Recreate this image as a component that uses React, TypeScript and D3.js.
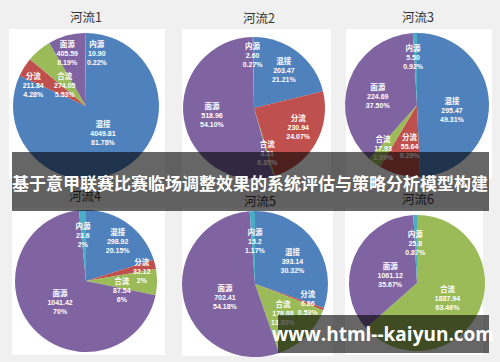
import React from "react";
import * as d3 from "d3";

// 分类（顺时针，从12点方向开始）
const categories = ["混接", "分流", "合流", "面源", "内源"];
const colors = ["#4f81bd", "#c0504d", "#9bbb59", "#8064a2", "#4bacc6"];
const rivers = ["河流1", "河流2", "河流3", "河流4", "河流5", "河流6"];

// 各河流数值
const river1Values = [4049.81, 211.84, 274.05, 405.59, 10.9];
const river2Values = [203.47, 230.94, 3.31, 518.96, 2.6];
const river3Values = [295.47, 55.64, 17.93, 224.69, 5.5];
const river4Values = [298.92, 32.12, 87.54, 1041.42, 23.6];
const river5Values = [393.14, 6.86, 178.88, 702.41, 15.2];
const river6Values = [0, 0, 1887.94, 1061.12, 25.8];

// 标签上显示的数字
const river1Text = ["4049.81", "211.84", "274.05", "405.59", "10.90"];
const river2Text = ["203.47", "230.94", "3.31", "518.96", "2.60"];
const river3Text = ["295.47", "55.64", "17.93", "224.69", "5.50"];
const river4Text = ["298.92", "32.12", "87.54", "1041.42", "23.6"];
const river5Text = ["393.14", "6.86", "178.88", "702.41", "15.2"];
const river6Text = ["", "", "1887.94", "1061.12", "25.8"];

const river1Pct = ["81.78%", "4.28%", "5.53%", "8.19%", "0.22%"];
const river2Pct = ["21.21%", "24.07%", "0.35%", "54.10%", "0.27%"];
const river3Pct = ["49.31%", "9.29%", "2.99%", "37.50%", "0.92%"];
const river4Pct = ["20.15%", "2%", "6%", "70%", "2%"];
const river5Pct = ["30.32%", "0.53%", "13.80%", "54.18%", "1.17%"];
const river6Pct = ["", "", "63.46%", "35.67%", "0.87%"];

const allValues = [river1Values, river2Values, river3Values, river4Values, river5Values, river6Values];
const allText = [river1Text, river2Text, river3Text, river4Text, river5Text, river6Text];
const allPct = [river1Pct, river2Pct, river3Pct, river4Pct, river5Pct, river6Pct];

const title = "基于意甲联赛比赛临场调整效果的系统评估与策略分析模型构建";
const watermark = "www.html--kaiyun.com";

// 版面（面板位置、饼图中心、半径）
const panels = [
  { x: 9, y: 29, w: 156, h: 150, cx: 86, cy: 106, r: 73, tx: 86, ty: 22 },
  { x: 182, y: 29, w: 149, h: 150, cx: 254, cy: 108, r: 71, tx: 259, ty: 23 },
  { x: 346, y: 29, w: 146, h: 150, cx: 417, cy: 105, r: 72, tx: 418, ty: 22 },
  { x: 12, y: 208, w: 153, h: 147, cx: 86, cy: 281, r: 71, tx: 85, ty: 201 },
  { x: 182, y: 208, w: 151, h: 148, cx: 255, cy: 284, r: 73, tx: 260, ty: 206 },
  { x: 345, y: 208, w: 138, h: 147, cx: 417, cy: 283, r: 68, tx: 418, ty: 204 },
];

// 标签位置微调 [半径比例, 角度偏移(度)]
const labelAdjust = [
  [[0.44, 1], [0.78, -10], [0.41, -5], [0.77, -4], [0.74, 12]],
  [[0.68, 0], [0.68, -6], [0.66, 0], [0.6, -1], [0.75, -1]],
  [[0.49, 9], [0.58, -4], [0.76, 2], [0.56, -6], [0.67, -3]],
  [[0.72, 2], [0.8, 3], [0.52, 13], [0.47, 3], [0.65, -1]],
  [[0.6, 4], [0.77, 0], [0.55, 0], [0.45, -12], [0.59, 2]],
  [[0.5, 0], [0.5, 0], [0.5, 2], [0.41, -7], [0.59, -1]],
];

const color = d3.scaleOrdinal<string, string>().domain(categories).range(colors);

function RiverPie({ idx }: { idx: number }) {
  const p = panels[idx];
  const values = allValues[idx];
  const pie = d3
    .pie<number>()
    .sort(null)
    .value((d) => d);
  const arcs = pie(values);
  const arc = d3.arc<d3.PieArcDatum<number>>().innerRadius(0).outerRadius(p.r);

  return (
    <g>
      <rect x={p.x} y={p.y} width={p.w} height={p.h} fill="#ffffff" />
      <text
        x={p.tx}
        y={p.ty}
        textAnchor="middle"
        fontSize="12.5"
        fill="#333"
        fontFamily="'Noto Sans CJK SC', sans-serif"
      >
        {rivers[idx]}
      </text>
      <g transform={`translate(${p.cx},${p.cy})`}>
        {arcs.map((a, i) =>
          a.value > 0 ? (
            <path key={i} d={arc(a) || ""} fill={color(categories[i])} />
          ) : null
        )}
        {arcs.map((a, i) => {
          if (a.value <= 0) return null;
          const [k, dd] = labelAdjust[idx][i];
          const ang = (a.startAngle + a.endAngle) / 2 + (dd * Math.PI) / 180;
          const lx = k * p.r * Math.sin(ang);
          const ly = -k * p.r * Math.cos(ang);
          return (
            <g key={"l" + i} transform={`translate(${lx},${ly})`} fill="#ffffff" fontWeight="bold" textAnchor="middle">
              <text y={-6} fontSize="7.5" fontFamily="'Noto Sans CJK SC', serif">
                {categories[i]}
              </text>
              <text y={3} fontSize="7" fontFamily="'Liberation Sans', sans-serif">
                {allText[idx][i]}
              </text>
              <text y={12} fontSize="7" fontFamily="'Liberation Sans', sans-serif">
                {allPct[idx][i]}
              </text>
            </g>
          );
        })}
      </g>
    </g>
  );
}

export default function App() {
  const width = 500,
    height = 362;
  return (
    <svg
      width={width}
      height={height}
      style={{ position: "absolute", left: 0, top: 0, display: "block" }}
    >
      <rect x={0} y={0} width={width} height={height} fill="#f0f0f0" />
      {rivers.map((r, i) => (
        <RiverPie key={r} idx={i} />
      ))}
      {/* 标题横幅 */}
      <rect x={12} y={152} width={477} height={59} fill="#000" opacity={0.6} />
      <text
        x={250}
        y={190}
        textAnchor="middle"
        fontSize="17"
        fontWeight="bold"
        fill="#ffffff"
        fontFamily="'Noto Sans CJK SC', sans-serif"
      >
        {title}
      </text>
      {/* 水印 */}
      <rect x={278} y={315} width={211} height={38} fill="#000" opacity={0.6} />
      <text
        x={383}
        y={341}
        textAnchor="middle"
        fontSize="19"
        fontWeight="bold"
        fill="#ffffff"
        fontFamily="'Open Sans', sans-serif"
      >
        {watermark}
      </text>
    </svg>
  );
}
